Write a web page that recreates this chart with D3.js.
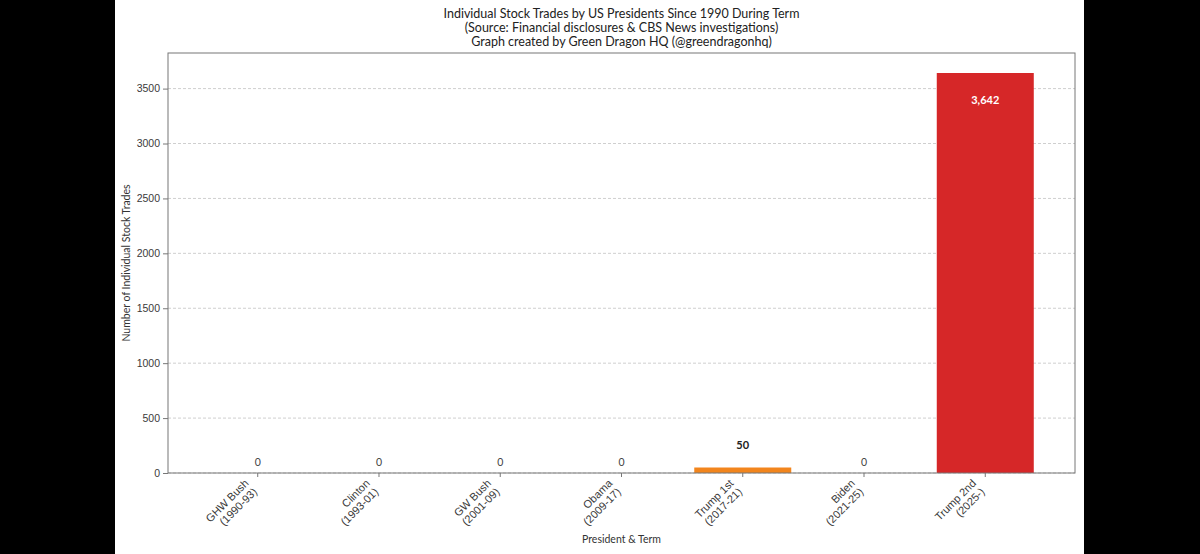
<!DOCTYPE html>
<html>
<head>
<meta charset="utf-8">
<script src="https://cdn.jsdelivr.net/npm/d3@7"></script>
<style>
  body { margin: 0; background: #fff; }
  svg { display: block; font-family: Lato, "Open Sans", sans-serif; }
  .grid line { stroke: #cfcfcf; stroke-dasharray: 3,2; }
  .axis text { fill: #3a3a3a; font-size: 10.5px; }
  .axis line, .axis path { stroke: #777; }
</style>
</head>
<body>
<svg></svg>
<script>
const presidents = ["GHW Bush", "Clinton", "GW Bush", "Obama", "Trump 1st", "Biden", "Trump 2nd"];
const terms = ["(1990-93)", "(1993-01)", "(2001-09)", "(2009-17)", "(2017-21)", "(2021-25)", "(2025-)"];
const trades = [0, 0, 0, 0, 50, 0, 3642];
const barColors = ["#999", "#999", "#999", "#999", "#f2851d", "#999", "#d62728"];
const yTicks = [0, 500, 1000, 1500, 2000, 2500, 3000, 3500];
const titleLines = [
  "Individual Stock Trades by US Presidents Since 1990 During Term",
  "(Source: Financial disclosures & CBS News investigations)",
  "Graph created by Green Dragon HQ (@greendragonhq)"
];

const W = 1200, H = 554;
const margin = { top: 53, right: 125, bottom: 81, left: 168 },
      width = W - margin.left - margin.right,
      height = H - margin.top - margin.bottom;

const root = d3.select("svg").attr("width", W).attr("height", H);

// black side bands of the screenshot
root.append("rect").attr("x", 0).attr("y", 0).attr("width", 115).attr("height", H).attr("fill", "#000");
root.append("rect").attr("x", 1084).attr("y", 0).attr("width", W - 1084).attr("height", H).attr("fill", "#000");

const svg = root.append("g")
    .attr("transform", `translate(${margin.left},${margin.top})`);

const x = d3.scaleBand()
    .domain(presidents)
    .range([0, width])
    .paddingInner(0.2)
    .paddingOuter(0.34);

const y = d3.scaleLinear()
    .domain([0, d3.max(trades) * 1.05])
    .range([height, 0]);

// gridlines
svg.append("g")
    .attr("class", "grid")
    .selectAll("line")
    .data(yTicks)
    .enter().append("line")
    .attr("x1", 0)
    .attr("x2", width)
    .attr("y1", d => y(d))
    .attr("y2", d => y(d));

const rows = presidents.map((p, i) => ({ p, term: terms[i], v: trades[i], c: barColors[i] }));

svg.append("g")
    .selectAll(".bar")
    .data(rows)
    .enter().append("rect")
    .attr("class", "bar")
    .attr("x", d => x(d.p))
    .attr("y", d => y(d.v))
    .attr("width", x.bandwidth())
    .attr("height", d => height - y(d.v))
    .attr("fill", d => d.c);

// value labels
svg.append("g")
    .selectAll("text")
    .data(rows)
    .enter().append("text")
    .attr("x", d => x(d.p) + x.bandwidth() / 2)
    .attr("y", d => d.v > 1000 ? y(d.v) + 31 : d.v > 0 ? y(d.v) - 19 : y(d.v) - 7)
    .attr("text-anchor", "middle")
    .style("font-size", d => d.v > 0 ? "11px" : "10.5px")
    .style("font-weight", d => d.v > 0 ? "bold" : "normal")
    .style("fill", d => d.v > 1000 ? "#fff" : d.v > 0 ? "#222" : "#444")
    .text(d => d3.format(",")(d.v));

// frame
svg.append("rect")
    .attr("width", width)
    .attr("height", height)
    .attr("fill", "none")
    .attr("stroke", "#777");

svg.append("g")
    .attr("class", "axis")
    .call(d3.axisLeft(y).tickValues(yTicks).tickFormat(d3.format("d")).tickSize(5).tickPadding(3))
    .call(g => g.select(".domain").remove());

const xAxis = svg.append("g")
    .attr("class", "axis")
    .attr("transform", `translate(0,${height})`)
    .call(d3.axisBottom(x).tickSize(4).tickFormat(""))
    .call(g => g.select(".domain").remove());

xAxis.selectAll(".tick").each(function(d, i) {
    const t = d3.select(this).append("text")
        .attr("transform", "translate(0,19.5) rotate(-45)")
        .attr("text-anchor", "end")
        .style("font-size", "11px");
    t.append("tspan").attr("x", 0).attr("y", -12).text(d);
    t.append("tspan").attr("x", 0).attr("y", 0).text(terms[i]);
});

// axis titles
svg.append("text")
    .attr("transform", `translate(${127 - margin.left},${height / 2}) rotate(-90)`)
    .attr("text-anchor", "middle")
    .attr("dominant-baseline", "middle")
    .style("font-size", "10.5px")
    .style("fill", "#333")
    .text("Number of Individual Stock Trades");

svg.append("text")
    .attr("x", width / 2)
    .attr("y", 543 - margin.top)
    .attr("text-anchor", "middle")
    .style("font-size", "10.5px")
    .style("fill", "#333")
    .text("President & Term");

// title
svg.append("g")
    .selectAll("text")
    .data(titleLines)
    .enter().append("text")
    .attr("x", width / 2)
    .attr("y", (d, i) => 18 + i * 14 - margin.top)
    .attr("text-anchor", "middle")
    .style("font-size", "12.5px")
    .style("fill", "#222")
    .text(d => d);
</script>
</body>
</html>
